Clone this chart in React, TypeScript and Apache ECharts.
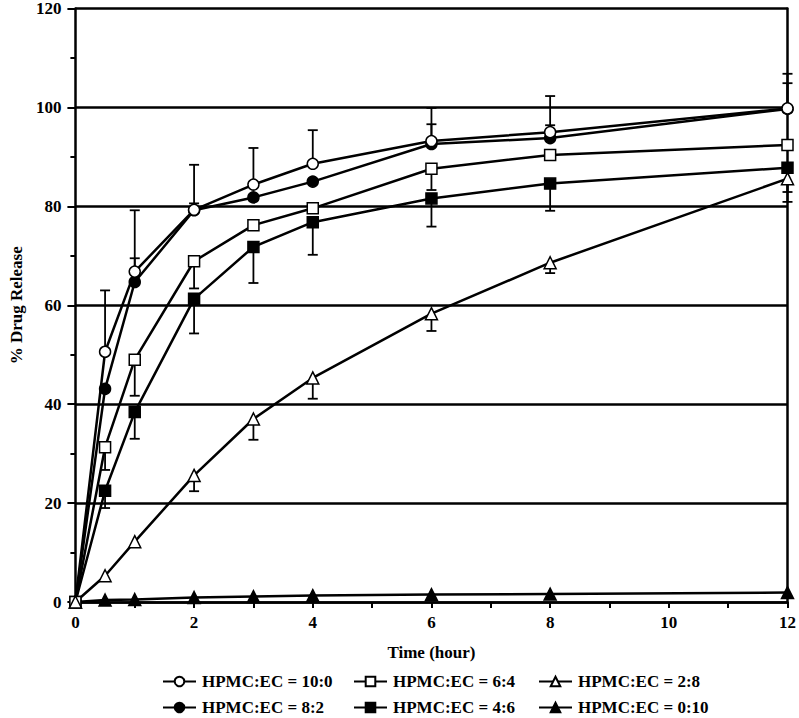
import React, { useEffect, useRef } from "react";
import * as echarts from "echarts";

const times = [0, 0.5, 1, 2, 3, 4, 6, 8, 12];

const s10_0 = [0, 50.6, 66.8, 79.3, 84.4, 88.6, 93.2, 95.0, 99.8];
const s8_2 = [0, 43.1, 64.7, 79.2, 81.8, 85.0, 92.6, 93.8, 99.7];
const s6_4 = [0, 31.3, 49.0, 68.9, 76.2, 79.6, 87.6, 90.4, 92.4];
const s4_6 = [0, 22.5, 38.4, 61.3, 71.8, 76.8, 81.6, 84.6, 87.8];
const s2_8 = [0, 5.3, 12.2, 25.6, 37.0, 45.3, 58.3, 68.6, 85.6];
const s0_10 = [0, 0.4, 0.5, 0.9, 1.1, 1.3, 1.5, 1.6, 1.9];

// error bar end values (null = no visible bar)
const e10_0 = [null, 63.0, 79.2, 88.4, 91.8, 95.4, 99.9, 102.3, 106.8];
const e8_2 = [null, null, 69.5, 80.6, null, null, 96.6, 96.4, 104.9];
const e6_4 = [null, 26.7, 41.7, 63.4, null, null, 83.3, null, null];
const e4_6 = [null, 19.0, 33.0, 54.3, 64.5, 70.2, 75.9, 79.1, 80.9];
const e2_8 = [null, null, null, 22.4, 32.8, 41.1, 54.8, 66.5, 82.9];

const seriesNames = [
  "HPMC:EC = 10:0",
  "HPMC:EC = 8:2",
  "HPMC:EC = 6:4",
  "HPMC:EC = 4:6",
  "HPMC:EC = 2:8",
  "HPMC:EC = 0:10",
];

const yTicks = [0, 20, 40, 60, 80, 100, 120];
const xTicks = [0, 2, 4, 6, 8, 10, 12];

const FONT = "'Liberation Serif', 'Times New Roman', serif";

export default function App() {
  const ref = useRef<HTMLDivElement>(null);

  useEffect(() => {
    if (!ref.current) return;
    const chart = echarts.init(ref.current, undefined, { renderer: "svg" });

    const values = [s10_0, s8_2, s6_4, s4_6, s2_8, s0_10];
    const errs = [e10_0, e8_2, e6_4, e4_6, e2_8, null];
    const symbols = ["circle", "circle", "rect", "rect", "triangle", "triangle"];
    const filled = [false, true, false, true, false, true];

    const lineSeries = values.map((vals, i) => ({
      name: seriesNames[i],
      type: "line",
      data: times.map((t, k) => [t, vals[k]]),
      symbol: symbols[i],
      symbolSize: symbols[i] === "triangle" ? 12 : 11,
      showAllSymbol: true,
      z: 3 + (filled[i] ? 0 : 1),
      lineStyle: { color: "#000", width: 2.5 },
      itemStyle: {
        color: filled[i] ? "#000" : "#fff",
        borderColor: "#000",
        borderWidth: 1.5,
      },
    }));

    const errData: number[][] = [];
    errs.forEach((e, i) => {
      if (!e) return;
      e.forEach((end, k) => {
        if (end === null) return;
        errData.push([times[k], values[i][k], end as number]);
      });
    });

    const errSeries = {
      type: "custom",
      name: "err",
      z: 2,
      silent: true,
      data: errData,
      renderItem: (params: any, api: any) => {
        const x = api.value(0);
        const v = api.value(1);
        const end = api.value(2);
        const p1 = api.coord([x, v]);
        const p2 = api.coord([x, end]);
        const cap = 5;
        return {
          type: "group",
          children: [
            {
              type: "line",
              shape: { x1: p1[0], y1: p1[1], x2: p2[0], y2: p2[1] },
              style: { stroke: "#000", lineWidth: 1.8 },
            },
            {
              type: "line",
              shape: { x1: p2[0] - cap, y1: p2[1], x2: p2[0] + cap, y2: p2[1] },
              style: { stroke: "#000", lineWidth: 1.8 },
            },
          ],
        };
      },
    };

    const legendBase = {
      orient: "vertical",
      top: 673,
      height: 80,
      padding: 0,
      itemWidth: 33,
      itemHeight: 12,
      itemGap: 9,
      selectedMode: false,
      textStyle: { fontFamily: FONT, fontWeight: "bold", fontSize: 17, color: "#000", padding: [0, 0, 0, 1] },
    };

    chart.setOption({
      animation: false,
      backgroundColor: "#fff",
      grid: { left: 57, right: 7, top: 6, bottom: 116, containLabel: false },
      legend: [
        { ...legendBase, left: 162, data: [seriesNames[0], seriesNames[1]] },
        { ...legendBase, left: 353, data: [seriesNames[2], seriesNames[3]] },
        { ...legendBase, left: 538, data: [seriesNames[4], seriesNames[5]] },
      ],
      xAxis: {
        type: "value",
        min: xTicks[0],
        max: xTicks[xTicks.length - 1],
        interval: 2,
        name: "Time (hour)",
        nameLocation: "middle",
        nameGap: 42,
        nameTextStyle: { fontFamily: FONT, fontWeight: "bold", fontSize: 17, color: "#000" },
        axisLine: { show: true, onZero: false, lineStyle: { color: "#000", width: 2.5 } },
        axisTick: { show: true, length: 6, lineStyle: { color: "#000", width: 2 } },
        minorTick: { show: true, splitNumber: 2, length: 6, lineStyle: { color: "#000", width: 2 } },
        splitLine: { show: false },
        axisLabel: { margin: 12, fontFamily: FONT, fontWeight: "bold", fontSize: 17, color: "#000" },
      },
      yAxis: [
        {
          type: "value",
          min: yTicks[0],
          max: yTicks[yTicks.length - 1],
          interval: 20,
          name: "% Drug Release",
          nameLocation: "middle",
          nameGap: 40,
          nameTextStyle: { fontFamily: FONT, fontWeight: "bold", fontSize: 17, color: "#000" },
          axisLine: { show: true, lineStyle: { color: "#000", width: 2.5 } },
          axisTick: { show: true, length: 8, lineStyle: { color: "#000", width: 2 } },
          minorTick: { show: true, splitNumber: 2, length: 5, lineStyle: { color: "#000", width: 2 } },
          splitLine: { show: true, lineStyle: { color: "#000", width: 2.5 } },
          axisLabel: { margin: 14, fontFamily: FONT, fontWeight: "bold", fontSize: 17, color: "#000" },
        },
        {
          type: "value",
          position: "right",
          min: 0,
          max: 120,
          interval: 20,
          axisLine: { show: true, lineStyle: { color: "#000", width: 2.5 } },
          axisTick: { show: false },
          axisLabel: { show: false },
          splitLine: { show: false },
        },
      ],
      series: [errSeries, ...lineSeries],
    });

    return () => chart.dispose();
  }, []);

  return (
    <div
      ref={ref}
      style={{ position: "fixed", left: 0, top: 0, width: 799, height: 718, background: "#fff" }}
    />
  );
}
